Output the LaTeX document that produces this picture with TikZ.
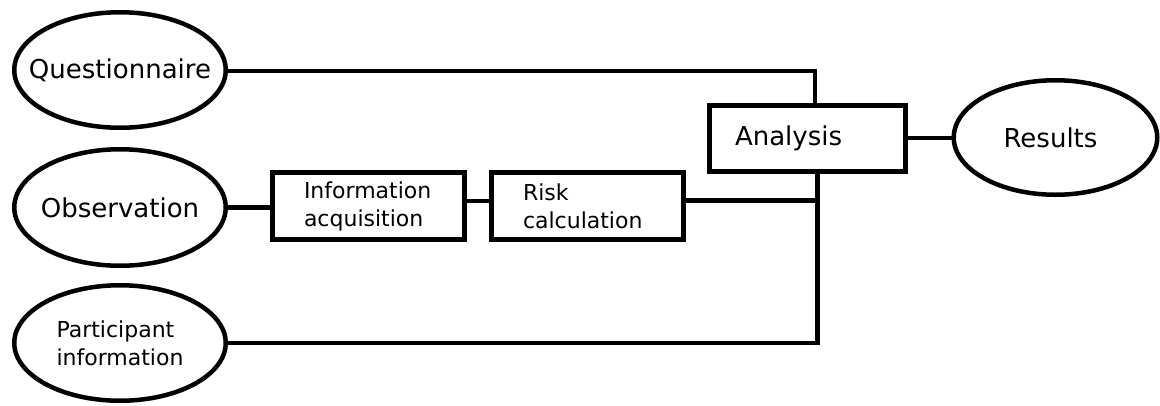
\documentclass[tikz,border=0pt]{standalone}
\usepackage{fontspec}
\setmainfont{DejaVu Sans}
\usetikzlibrary{shapes.geometric}
\tikzset{
  oval/.style={ellipse, draw, line width=4.5pt, inner sep=0pt},
  bigtxt/.style={font=\fontsize{26}{31}\selectfont},
  smalltxt/.style={font=\fontsize{22}{28}\selectfont},
  ovaltext/.style={align=left, inner sep=0pt},
  stepbox/.style={rectangle, draw, line width=5pt, inner ysep=0pt, align=left, smalltxt},
  wire/.style={line width=4.5pt, line cap=rect}
}
\begin{document}
\begin{tikzpicture}[x=1pt,y=-1pt]
\useasboundingbox (0,0) rectangle (1160,405);
% ellipses
\node[oval, minimum width=211.5pt, minimum height=115.5pt,
  label={[ovaltext, bigtxt, name=qt]center:Questionnaire}] (q) at (120,70) {};
\node[oval, minimum width=211.5pt, minimum height=116.5pt,
  label={[ovaltext, bigtxt, name=ot]center:Observation}] (o) at (120,207.5) {};
\node[oval, minimum width=211.5pt, minimum height=115.5pt,
  label={[ovaltext, smalltxt, name=pt]center:Participant\\information}] (p) at (120,343) {};
\node[oval, minimum width=203.5pt, minimum height=114.5pt,
  label={[ovaltext, bigtxt, name=rt, xshift=-5pt]center:Results}] (r) at (1055.5,137.5) {};
% boxes
\node[stepbox, minimum width=192pt, minimum height=67pt, inner xsep=31.5pt, text width=129pt] (ia) at (368.5,206) {Information\\acquisition};
\node[stepbox, minimum width=192pt, minimum height=67pt, inner xsep=31.5pt, text width=129pt] (rc) at (587.5,206) {Risk\\calculation};
\node[stepbox, bigtxt, minimum width=196pt, minimum height=66pt, inner xsep=25.5pt, text width=145pt] (an) at (807.5,138.5) {Analysis};
% junction coordinates
\coordinate (jt) at (815,71);
\coordinate (jb) at (817.5,200.5);
\coordinate (jp) at (817.5,343);
% connectors
\draw[wire] (q.east |- jt) -- (jt) -- (jt |- an.north);
\draw[wire] (o.east) -- (ia.west |- o.east);
\draw[wire] (ia.east |- 0,201) -- (rc.west |- 0,201);
\draw[wire] (rc.east |- jb) -- (jb);
\draw[wire] (p.east) -- (jp) -- (jp |- an.south);
\draw[wire] (an.east |- 0,138) -- (r.west |- 0,138);
\end{tikzpicture}
\end{document}
